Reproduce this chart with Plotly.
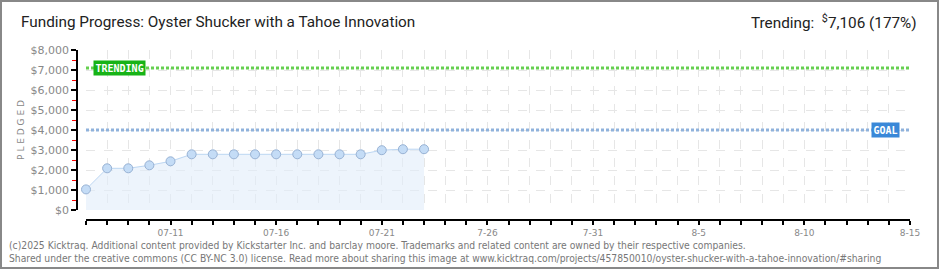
import plotly.graph_objects as go
import pandas as pd

# ---- data ----
dates = pd.date_range("2025-07-07", "2025-07-23", freq="D")
pledged = [1030, 2085, 2085, 2235, 2435, 2785, 2785, 2785, 2785, 2785,
           2785, 2785, 2785, 2785, 2990, 3040, 3040]
goal = 4000
trending = 7106
trend_pct = 177
axis_start = "2025-07-07"
axis_end = "2025-08-15"
label_dates = ["2025-07-11", "2025-07-16", "2025-07-21", "2025-07-26",
               "2025-07-31", "2025-08-05", "2025-08-10", "2025-08-15"]
label_text = ["07-11", "07-16", "07-21", "7-26", "7-31", "8-5", "8-10", "8-15"]
y_vals = list(range(0, 8001, 1000))
y_text = ["$" + format(v, ",") for v in y_vals]

title = "Funding Progress: Oyster Shucker with a Tahoe Innovation"
footer1 = ("(c)2025 Kicktraq. Additional content provided by Kickstarter Inc. and barclay moore. "
           "Trademarks and related content are owned by their respective companies.")
footer2 = ("Shared under the creative commons (CC BY-NC 3.0) license. Read more about sharing this image at "
           "www.kicktraq.com/projects/457850010/oyster-shucker-with-a-tahoe-innovation/#sharing")

# ---- geometry (pixels) ----
W, H = 940, 270
ML, MR, MT, MB = 77, 30, 50, 50
PW = W - ML - MR
PH = H - MT - MB
def px(x):
    return (x - ML) / PW
def py(y):
    return (H - MB - y) / PH

TITLE_FONT = "Roboto, sans-serif"
FOOT_FONT = "DejaVu Sans Condensed, DejaVu Sans"
GRID = "#e6e6e6"

fig = go.Figure()
fig.add_trace(go.Scatter(
    x=dates, y=pledged, mode="lines+markers",
    fill="tozeroy", fillcolor="rgba(225,236,250,0.6)",
    line=dict(color="#bcd6f2", width=1),
    marker=dict(size=9, color="#c4dcf6", line=dict(color="#98b2d4", width=1)),
    cliponaxis=False, showlegend=False, hoverinfo="skip"))

# goal & trending lines
fig.add_trace(go.Scatter(x=[axis_start, axis_end], y=[goal, goal], mode="lines",
                         line=dict(color="#8fb2dc", width=3, dash="3px,2px"),
                         showlegend=False, hoverinfo="skip"))
fig.add_trace(go.Scatter(x=[axis_start, axis_end], y=[trending, trending], mode="lines",
                         line=dict(color="#66d050", width=3, dash="3px,2px"),
                         showlegend=False, hoverinfo="skip"))

fig.update_layout(
    width=W, height=H, margin=dict(l=ML, r=MR, t=MT, b=MB),
    paper_bgcolor="white", plot_bgcolor="white",
    xaxis=dict(domain=[px(86), 1], range=[axis_start, axis_end], anchor="free", position=0,
               tickmode="array", tickvals=label_dates, ticktext=label_text,
               ticks="outside", ticklen=4, tickwidth=1.5, tickcolor="black",
               minor=dict(tick0=axis_start, dtick=86400000, ticks="outside", ticklen=4,
                          tickwidth=1.5, tickcolor="black", showgrid=True,
                          gridcolor=GRID, griddash="dash", gridwidth=1),
               showline=True, linecolor="black", linewidth=1.5,
               showgrid=True, gridcolor=GRID, griddash="dash", gridwidth=1,
               zeroline=False, tickfont=dict(family="DejaVu Sans", size=9, color="#888"),
               ticklabelstandoff=0),
    yaxis=dict(domain=[py(210), 1], range=[0, 8000], anchor="free", position=0,
               tickmode="array", tickvals=y_vals, ticktext=y_text,
               ticks="outside", ticklen=5, tickwidth=1.5, tickcolor="black",
               minor=dict(dtick=500, ticks="outside", ticklen=4, tickcolor="red",
                          tickwidth=1, showgrid=False),
               showline=True, linecolor="black", linewidth=1.5,
               showgrid=True, gridcolor=GRID, griddash="dash", gridwidth=1,
               zeroline=False, tickfont=dict(family="DejaVu Sans", size=11, color="#888"),
               title=dict(text="P L E D G E D", font=dict(family="DejaVu Sans", size=9, color="#888"),
                          standoff=3)),
)

annotations = [
    dict(text=title, x=px(19), y=py(22), xref="paper", yref="paper", xanchor="left",
         yanchor="middle", showarrow=False, font=dict(family=TITLE_FONT, size=15.3, color="#222")),
    dict(text="Trending:  <sup>$</sup>" + format(trending, ",") + " (" + str(trend_pct) + "%)",
         x=px(919), y=py(22), xref="paper", yref="paper", xanchor="right", yanchor="middle",
         showarrow=False, font=dict(family=TITLE_FONT, size=15.3, color="#222")),
    dict(text=footer1, x=px(7), y=py(244.5), xref="paper", yref="paper", xanchor="left",
         yanchor="middle", showarrow=False, font=dict(family=FOOT_FONT, size=10.25, color="#777")),
    dict(text=footer2, x=px(7), y=py(257.5), xref="paper", yref="paper", xanchor="left",
         yanchor="middle", showarrow=False, font=dict(family=FOOT_FONT, size=10.25, color="#777")),
    dict(text="<b>TRENDING</b>", x=px(93), y=trending, xref="paper", yref="y", xanchor="left",
         yanchor="middle", showarrow=False, bgcolor="#17b317", borderpad=1.5,
         font=dict(family="DejaVu Sans Mono", size=10, color="white")),
    dict(text="<b>GOAL</b>", x=px(871), y=goal, xref="paper", yref="y", xanchor="left",
         yanchor="middle", showarrow=False, bgcolor="#3a88d8", borderpad=1.5,
         font=dict(family="DejaVu Sans Mono", size=10, color="white")),
]
fig.update_layout(annotations=annotations)

fig.add_shape(type="rect", xref="paper", yref="paper",
              x0=px(1), x1=px(938), y0=py(268), y1=py(1),
              line=dict(color="#888", width=2), fillcolor="rgba(0,0,0,0)", layer="above")

fig.write_html("out.html")
